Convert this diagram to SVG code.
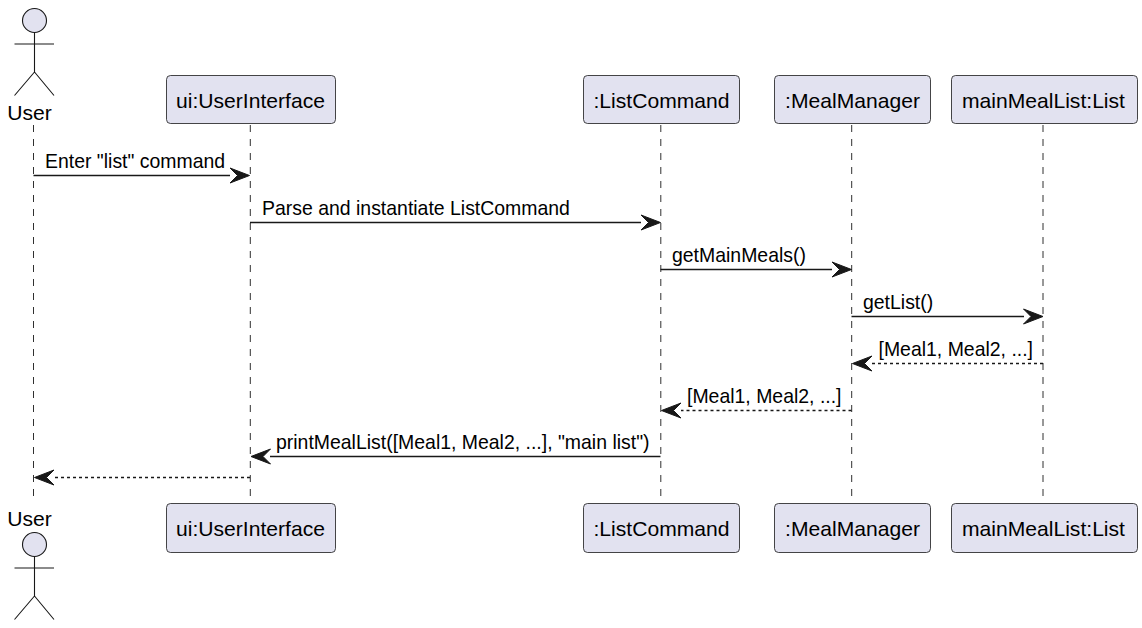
<svg xmlns="http://www.w3.org/2000/svg" width="1142" height="628" viewBox="0 0 1142 628">
<style>
text{font-family:"Liberation Sans",Arial,sans-serif;fill:#000}
.p{font-size:21.1px;text-anchor:middle}
.m{font-size:19.45px}
.box{fill:#E2E2F0;stroke:#181818;stroke-width:.8}
.act{fill:none;stroke:#181818;stroke-width:1.1}
.head{fill:#E2E2F0;stroke:#181818;stroke-width:1.1}
.life{stroke:#181818;stroke-width:.9;stroke-dasharray:7 7;fill:none}
.sol{stroke:#181818;stroke-width:1.5;fill:none}
.dash{stroke:#181818;stroke-width:1.5;stroke-dasharray:3 3;fill:none}
.ah{fill:#181818;stroke:#181818;stroke-width:1}
</style>
<defs>
<g id="ar"><path class="ah" d="M0 0L-19.500 -7.500L-12 0L-19.500 7.500Z"/></g>
<g id="al"><path class="ah" d="M0 0L19.500 -7.500L12 0L19.500 7.500Z"/></g>
</defs>
<g id="connectors">
<path class="life" d="M33.5 125V503M250.300 125V503M660.800 125V503M851.700 125V503M1043 125V503"/>
<path class="sol" d="M33.5 175.500H230"/><use href="#ar" x="249.500" y="175.500"/>
<path class="sol" d="M250 222.500H641"/><use href="#ar" x="660.500" y="222.500"/>
<path class="sol" d="M660.500 269.500H832"/><use href="#ar" x="851.500" y="269.500"/>
<path class="sol" d="M851.500 316.500H1024"/><use href="#ar" x="1043" y="316.500"/>
<path class="dash" d="M1043 363.500H871"/><use href="#al" x="852.500" y="363.500"/>
<path class="dash" d="M851.500 410.500H681"/><use href="#al" x="661.500" y="410.500"/>
<path class="sol" d="M660.500 456.500H270"/><use href="#al" x="251" y="456.500"/>
<path class="dash" d="M250 477.500H53"/><use href="#al" x="34.500" y="477.500"/>
<text class="m" x="45" y="167.500">Enter "list" command</text>
<text class="m" x="262" y="214.500">Parse and instantiate ListCommand</text>
<text class="m" x="672" y="261.500">getMainMeals()</text>
<text class="m" x="863" y="308.500">getList()</text>
<text class="m" x="878.500" y="355.500">[Meal1, Meal2, ...]</text>
<text class="m" x="687" y="402.500">[Meal1, Meal2, ...]</text>
<text class="m" x="276" y="448.500">printMealList([Meal1, Meal2, ...], "main list")</text>
</g>
<g id="user-top">
<circle class="head" cx="34.500" cy="20.500" r="12"/>
<path class="act" d="M34.500 32.500V72M14.500 44H54M34.500 72L14.500 95.500M34.500 72L54 95.500"/>
<text class="p" x="29.500" y="119.500">User</text>
</g>
<g id="ui-top"><rect class="box" x="166.500" y="75.500" width="169" height="48" rx="4"/><text class="p" x="250.500" y="108">ui:UserInterface</text></g>
<g id="list-top"><rect class="box" x="583.500" y="75.500" width="156" height="48" rx="4"/><text class="p" x="661.500" y="108">:ListCommand</text></g>
<g id="manager-top"><rect class="box" x="774.500" y="75.500" width="156" height="48" rx="4"/><text class="p" x="852.500" y="108">:MealManager</text></g>
<g id="mainlist-top"><rect class="box" x="951.500" y="75.500" width="186" height="48" rx="4"/><text class="p" x="1043.500" y="108">mainMealList:List</text></g>
<g id="user-bottom">
<text class="p" x="29.500" y="526">User</text>
<circle class="head" cx="34.500" cy="544.500" r="12"/>
<path class="act" d="M34.500 556.500V596M14.500 568H54M34.500 596L14.500 619.500M34.500 596L54 619.500"/>
</g>
<g id="ui-bottom"><rect class="box" x="166.500" y="503.500" width="169" height="49" rx="4"/><text class="p" x="250.500" y="536">ui:UserInterface</text></g>
<g id="list-bottom"><rect class="box" x="583.500" y="503.500" width="156" height="49" rx="4"/><text class="p" x="661.500" y="536">:ListCommand</text></g>
<g id="manager-bottom"><rect class="box" x="774.500" y="503.500" width="156" height="49" rx="4"/><text class="p" x="852.500" y="536">:MealManager</text></g>
<g id="mainlist-bottom"><rect class="box" x="951.500" y="503.500" width="186" height="49" rx="4"/><text class="p" x="1043.500" y="536">mainMealList:List</text></g>
</svg>
